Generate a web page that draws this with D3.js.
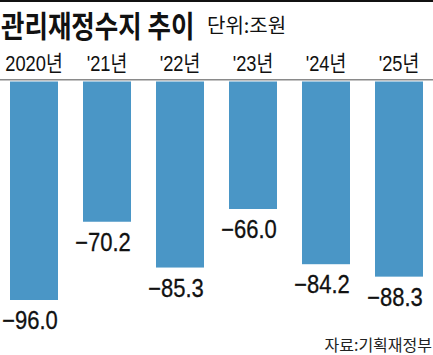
<!DOCTYPE html>
<html><head><meta charset="utf-8">
<script src="https://cdn.jsdelivr.net/npm/d3@7"></script>
<style>
html,body{margin:0;padding:0;background:#fff;}
svg{display:block;}
</style></head>
<body>
<script>
const categories = ["2020년", "'21년", "'22년", "'23년", "'24년", "'25년"];
const values = [-96.0, -70.2, -85.3, -66.0, -84.2, -88.3];
const valueLabels = ["−96.0", "−70.2", "−85.3", "−66.0", "−84.2", "−88.3"];
const title = "관리재정수지 추이";
const unit = "단위:조원";
const source = "자료:기획재정부";

const W = 433, H = 355;
const svg = d3.select("body").append("svg").attr("width", W).attr("height", H);
const NUM = "'Liberation Sans','Noto Sans CJK KR',sans-serif";
const KR = "'Noto Sans CJK KR',sans-serif";

svg.append("rect").attr("x", 0).attr("y", 0).attr("width", W).attr("height", 2).attr("fill", "#111");

svg.append("text").attr("transform", "translate(1,37) scale(0.85,1)")
  .attr("font-family", KR).attr("font-weight", 700).attr("font-size", 30)
  .attr("fill", "#111").text(title);
svg.append("text").attr("transform", "translate(207,33)")
  .attr("font-family", KR).attr("font-weight", 400).attr("font-size", 20)
  .attr("fill", "#111").text(unit);

const x = d3.scaleBand().domain(categories).range([10, 423]).paddingInner(0.3425).paddingOuter(0);
const y = d3.scaleLinear().domain([-23.8, -96]).range([81, 300]);

// category labels (top axis)
const xAxis = d3.axisTop(x).tickSize(0).tickPadding(0);
const gx = svg.append("g").attr("transform", "translate(0,71)").call(xAxis);
gx.select(".domain").remove();
gx.selectAll("text").attr("font-family", NUM).attr("font-size", 22).attr("fill", "#111")
  .attr("dy", 0).attr("y", 0).attr("transform", "scale(0.83,1)");

svg.append("rect").attr("x", 0).attr("y", 79).attr("width", W).attr("height", 1.5).attr("fill", "#8a8a8a");

svg.append("g").selectAll("rect").data(values).join("rect")
  .attr("x", (d, i) => x(categories[i]))
  .attr("y", y(-23.8) + 0.5)
  .attr("width", x.bandwidth())
  .attr("height", d => y(d) - y(-23.8) - 0.5)
  .attr("fill", "#4a96c6");

svg.append("g").selectAll("text").data(values).join("text")
  .attr("transform", (d, i) => `translate(${x(categories[i]) + x.bandwidth() / 2 - 4},${y(d) + 29}) scale(0.88,1)`)
  .attr("text-anchor", "middle")
  .attr("font-family", NUM).attr("font-size", 25).attr("fill", "#111")
  .attr("stroke", "#111").attr("stroke-width", 0.3)
  .text((d, i) => valueLabels[i]);

svg.append("text").attr("x", 432).attr("y", 351).attr("text-anchor", "end")
  .attr("font-family", KR).attr("font-size", 16).attr("fill", "#222").text(source);
</script>
</body></html>
